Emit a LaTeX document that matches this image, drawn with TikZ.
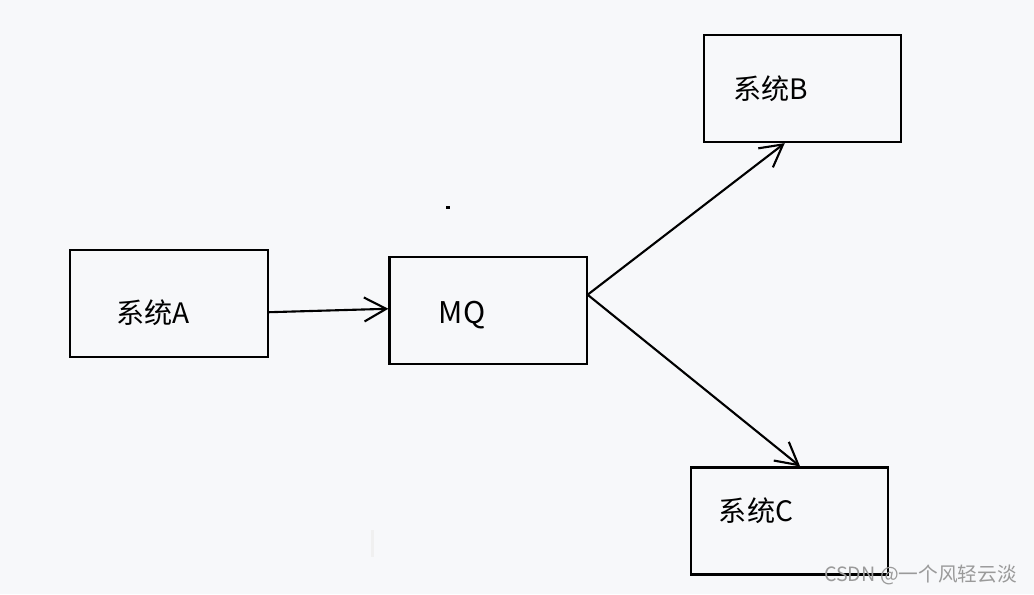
\documentclass[tikz,border=0pt]{standalone}
\usepackage{fontspec}
\setmainfont{Noto Sans CJK SC}
\newfontfamily\wmfont{Noto Sans CJK SC}
\usetikzlibrary{arrows.meta}
\definecolor{bgpaper}{HTML}{F7F8FA}
\definecolor{wmgray}{HTML}{9A9A9A}
\tikzset{
  sysbox/.style={draw,line width=0.6pt,minimum width=1.97cm,minimum height=1.07cm,inner sep=0pt},
  syslabel/.style={inner sep=0pt,font=\fontsize{8}{9}\selectfont},
}
\begin{document}
\begin{tikzpicture}[x=0.01cm,y=-0.01cm,>={Straight Barb[length=2.2mm,width=2.4mm]},line width=0.6pt]

\fill[bgpaper] (0,0) rectangle (1034,594);
\useasboundingbox (0,0) rectangle (1034,594);

\node[sysbox] (sysa) at (169,303.5) {};
\node[sysbox] (mq) at (488,310.5) {};
\node[sysbox] (sysb) at (802.5,88.5) {};
\node[sysbox] (sysc) at (789.5,521) {};

\node[syslabel] (labela) at (153,313) {系统A};
\node[syslabel] (labelmq) at (462,315) {\fontsize{8.5}{9}\selectfont MQ};
\node[syslabel] (labelb) at (771,89) {系统B};
\node[syslabel] (labelc) at (756,511) {系统C};

\draw [->] (sysa.-5) -- (mq.179);
\draw [->] (mq.9) -- (sysb.252);
\draw [->] (mq.9) -- (sysc.79);

% stray marks
\fill (446,206) rectangle (450,209);
\fill[black!6] (371,530) rectangle (374,557);

\node[anchor=east,inner sep=0pt,text=wmgray,font=\wmfont\fontsize{5.6}{6}\selectfont] (mark) at (1018,575) {CSDN @一个风轻云淡};

\end{tikzpicture}
\end{document}
